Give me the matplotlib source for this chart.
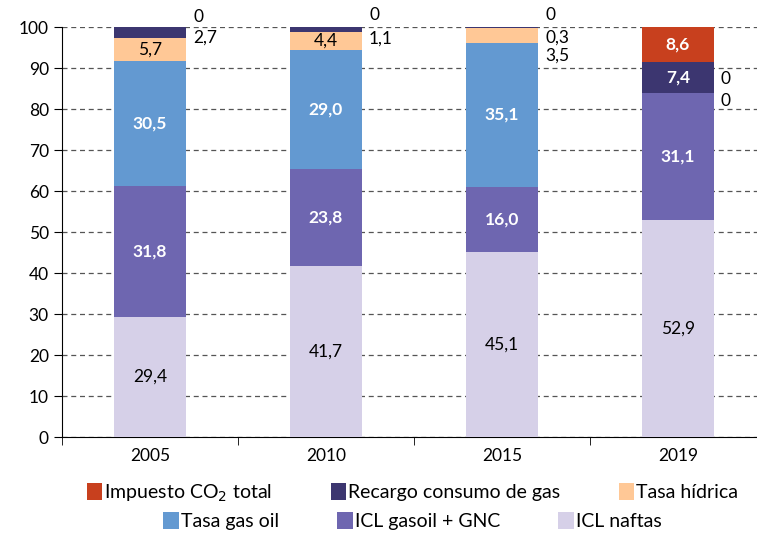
import matplotlib.pyplot as plt
from matplotlib.patches import Patch
import numpy as np

plt.rcParams['font.family'] = ['Lato', 'DejaVu Sans']

years = ['2005', '2010', '2015', '2019']
icl_naftas = [29.4, 41.7, 45.1, 52.9]
icl_gasoil_gnc = [31.8, 23.8, 16.0, 31.1]
tasa_gas_oil = [30.5, 29.0, 35.1, 0.0]
tasa_hidrica = [5.7, 4.4, 3.5, 0.0]
recargo_gas = [2.7, 1.1, 0.3, 7.4]
impuesto_co2 = [0.0, 0.0, 0.0, 8.6]

series = [
    ('ICL naftas', icl_naftas, '#D6D0E8', 'black'),
    ('ICL gasoil + GNC', icl_gasoil_gnc, '#6E66B0', 'white'),
    ('Tasa gas oil', tasa_gas_oil, '#6399D1', 'white'),
    ('Tasa hídrica', tasa_hidrica, '#FFC896', 'black'),
    ('Recargo consumo de gas', recargo_gas, '#3C3670', 'white'),
    ('Impuesto CO$_2$ total', impuesto_co2, '#C8401E', 'white'),
]

def fmt(v):
    return f'{v:.1f}'.replace('.', ',') if v != 0 else '0'

fig = plt.figure(figsize=(7.57, 5.33), dpi=100)
ax = fig.add_axes([0.082, 0.18, 0.918, 0.769])

x = np.arange(len(years))
width = 0.41
bottom = np.zeros(len(years))
handles = {}
for name, vals, color, tcol in series:
    vals = np.array(vals)
    ax.bar(x, vals, width, bottom=bottom, color=color, zorder=3)
    handles[name] = Patch(facecolor=color)
    for i, v in enumerate(vals):
        if v >= 4:
            ax.text(x[i], bottom[i] + v / 2, fmt(v), ha='center', va='center',
                    color=tcol, fontsize=12.5, fontweight='bold' if tcol == 'white' else 'normal',
                    zorder=4)
    bottom += vals

# small values written beside the bars
side_x = x + width / 2 + 0.04
side_labels = [
    (0, 102.5, impuesto_co2[0]), (0, 97.5, recargo_gas[0]),
    (1, 103.0, impuesto_co2[1]), (1, 97.3, recargo_gas[1]),
    (2, 103.0, impuesto_co2[2]), (2, 97.5, recargo_gas[2]), (2, 93.0, tasa_hidrica[2]),
    (3, 87.3, tasa_hidrica[3]), (3, 82.0, tasa_gas_oil[3]),
]
for i, yv, v in side_labels:
    ax.text(side_x[i], yv, fmt(v), ha='left', va='center', fontsize=12.5,
            clip_on=False)

ax.set_ylim(0, 100)
ax.set_xlim(-0.5, 3.45)
ax.set_yticks(range(0, 101, 10))
ax.yaxis.grid(True, linestyle=(0, (4, 3)), color='#555555', linewidth=0.9, zorder=0)
ax.set_axisbelow(True)
ax.tick_params(axis='y', labelsize=12.5, length=6, direction='out')
ax.set_xticks(x)
ax.set_xticklabels(years, fontsize=12.5)
ax.tick_params(axis='x', length=0, pad=8)
ax.set_xticks([-0.5, 0.5, 1.5, 2.5], minor=True)
ax.tick_params(axis='x', which='minor', length=6, direction='out')
ax.spines['top'].set_visible(False)
ax.spines['right'].set_visible(False)

row1 = ['Impuesto CO$_2$ total', 'Recargo consumo de gas', 'Tasa hídrica']
row2 = ['Tasa gas oil', 'ICL gasoil + GNC', 'ICL naftas']
for names, yy in [(row1, 0.075), (row2, 0.022)]:
    fig.legend([handles[n] for n in names], names, loc='center', bbox_to_anchor=(0.545, yy),
               ncol=3, frameon=False, fontsize=14, handlelength=0.8, handleheight=1.0,
               handletextpad=0.1, columnspacing=3.0, borderaxespad=0)

fig.savefig('out.png', dpi=100)
